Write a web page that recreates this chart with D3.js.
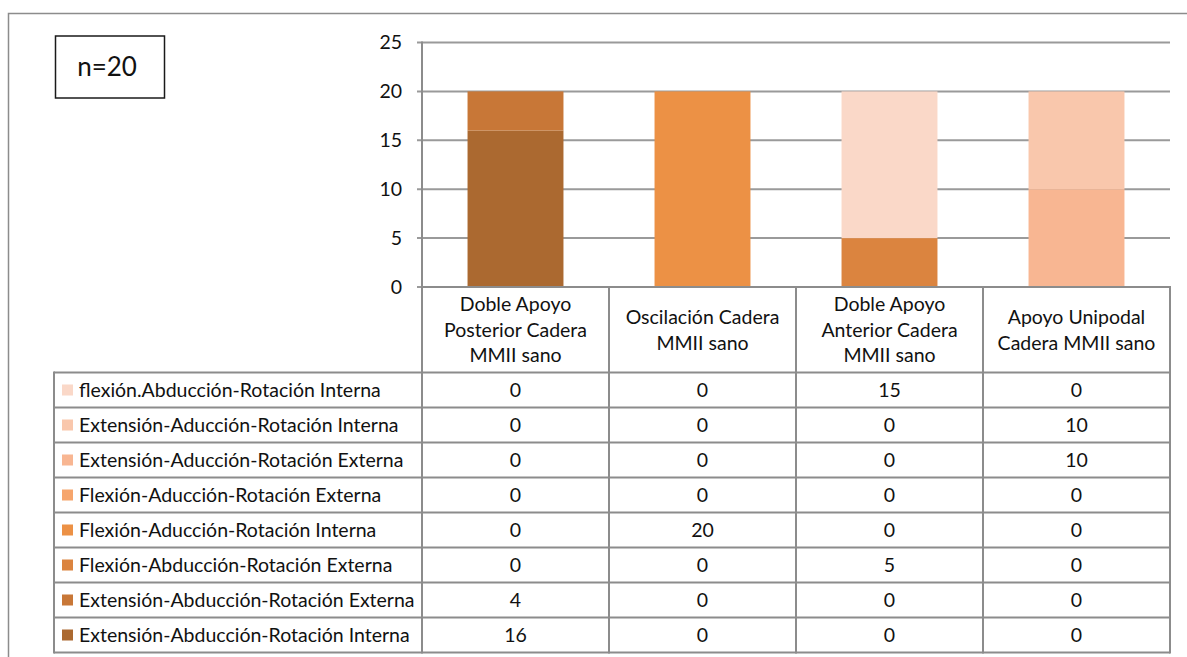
<!DOCTYPE html>
<html>
<head>
<meta charset="utf-8">
<script src="https://cdn.jsdelivr.net/npm/d3@7"></script>
<style>
  html, body { margin: 0; padding: 0; background: #fff; }
  svg { display: block; font-family: Lato, "Open Sans", sans-serif; }
</style>
</head>
<body>
<svg id="chart" width="1187" height="657"></svg>
<script>
// Movement patterns (series), listed bottom-up in the stack
const series = [
  "Extensión-Abducción-Rotación Interna",
  "Extensión-Abducción-Rotación Externa",
  "Flexión-Abducción-Rotación Externa",
  "Flexión-Aducción-Rotación Interna",
  "Flexión-Aducción-Rotación Externa",
  "Extensión-Aducción-Rotación Externa",
  "Extensión-Aducción-Rotación Interna",
  "flexión.Abducción-Rotación Interna"
];
const colors = [
  "#ab6930", "#c87737", "#db843f", "#ec9145",
  "#f6a56c", "#f8b692", "#f9c7ac", "#fad8c8"
];
// Gait phases (categories), each split over lines in the header
const categories = [
  "Doble Apoyo Posterior Cadera MMII sano",
  "Oscilación Cadera MMII sano",
  "Doble Apoyo Anterior Cadera MMII sano",
  "Apoyo Unipodal Cadera MMII sano"
];
const categoryLines = [
  ["Doble Apoyo", "Posterior Cadera", "MMII sano"],
  ["Oscilación Cadera", "MMII sano"],
  ["Doble Apoyo", "Anterior Cadera", "MMII sano"],
  ["Apoyo Unipodal", "Cadera MMII sano"]
];
// Counts per series (same order as `series`), one value per category
const values = [
  [16, 0, 0, 0],
  [4, 0, 0, 0],
  [0, 0, 5, 0],
  [0, 20, 0, 0],
  [0, 0, 0, 0],
  [0, 0, 0, 10],
  [0, 0, 0, 10],
  [0, 0, 15, 0]
];
const yTicks = [0, 5, 10, 15, 20, 25];
const sampleLabel = "n=20";

const svg = d3.select("#chart");
const lineColor = "#8c8c8c";
const gridColor = "#9a9a9a";
const fs = 19.5;

// Layout
const plot = { left: 422, right: 1170, top: 42.5, bottom: 287 };
const headerBottom = 372.5;
const rowH = 35;
const legendLeft = 54;

// Outer frame
svg.append("path")
  .attr("d", `M8.5,657 V13.5 H1187`)
  .attr("fill", "none").attr("stroke", lineColor).attr("stroke-width", 1.5);

// Sample size box
svg.append("rect")
  .attr("x", 55.5).attr("y", 36).attr("width", 109).attr("height", 62)
  .attr("fill", "#fff").attr("stroke", "#1a1a1a").attr("stroke-width", 1.5);
svg.append("text")
  .attr("x", 107).attr("y", 76)
  .attr("text-anchor", "middle").attr("font-size", 26).attr("fill", "#111")
  .text(sampleLabel);

// Scales
const x = d3.scaleBand().domain(categories)
  .range([plot.left, plot.right]).paddingInner(0.487).paddingOuter(0.2435);
const y = d3.scaleLinear().domain([0, 25]).range([plot.bottom, plot.top]);

// Gridlines
svg.append("g").selectAll("line").data(yTicks).join("line")
  .attr("x1", plot.left - 5).attr("x2", plot.right)
  .attr("y1", d => y(d)).attr("y2", d => y(d))
  .attr("stroke", gridColor).attr("stroke-width", 2);

// Y axis labels
const yAxis = d3.axisLeft(y).tickValues(yTicks).tickSize(0).tickPadding(20);
const gy = svg.append("g").attr("transform", `translate(${plot.left},0)`).call(yAxis);
gy.select(".domain").remove();
gy.selectAll("text").attr("font-size", fs).attr("fill", "#111")
  .attr("font-family", "Lato, sans-serif");

// Stacked bars
const rows = categories.map((c, ci) => {
  const r = { category: c };
  series.forEach((s, si) => { r[s] = values[si][ci]; });
  return r;
});
const stacked = d3.stack().keys(series)(rows);
svg.append("g").selectAll("g").data(stacked).join("g")
  .attr("fill", (d, i) => colors[i])
  .selectAll("rect").data(d => d).join("rect")
  .attr("x", d => x(d.data.category))
  .attr("width", x.bandwidth())
  .attr("y", d => y(d[1]))
  .attr("height", d => y(d[0]) - y(d[1]));

// Data table
const tableBottom = headerBottom + rowH * series.length;
const table = svg.append("g");

// Header cells (category names)
categories.forEach((c, i) => {
  const cx = x(c) + x.bandwidth() / 2;
  const lines = categoryLines[i];
  const mid = (plot.bottom + headerBottom) / 2;
  const lh = 25.5;
  lines.forEach((t, k) => {
    table.append("text")
      .attr("x", cx)
      .attr("y", mid + (k - (lines.length - 1) / 2) * lh + 7)
      .attr("text-anchor", "middle").attr("font-size", fs).attr("fill", "#111")
      .text(t);
  });
});

// Rows: legend entries listed top-down in reverse stack order
const order = d3.range(series.length).reverse();
order.forEach((si, r) => {
  const top = headerBottom + r * rowH;
  const cy = top + rowH / 2;
  table.append("rect")
    .attr("x", 62).attr("y", cy - 5.5).attr("width", 11).attr("height", 11)
    .attr("fill", colors[si]);
  table.append("text")
    .attr("x", 79).attr("y", cy + 7)
    .attr("font-size", fs).attr("fill", "#111")
    .text(series[si]);
  categories.forEach((c, ci) => {
    table.append("text")
      .attr("x", x(c) + x.bandwidth() / 2).attr("y", cy + 7)
      .attr("text-anchor", "middle").attr("font-size", fs).attr("fill", "#111")
      .text(values[si][ci]);
  });
});

// Table grid lines
const hLines = [];
hLines.push({ x1: plot.left, x2: plot.right, y: plot.bottom });
for (let r = 0; r <= series.length; r++) {
  hLines.push({ x1: legendLeft, x2: plot.right, y: headerBottom + r * rowH });
}
table.selectAll("line.h").data(hLines).join("line").attr("class", "h")
  .attr("x1", d => d.x1).attr("x2", d => d.x2)
  .attr("y1", d => d.y).attr("y2", d => d.y)
  .attr("stroke", lineColor).attr("stroke-width", 2);

const vLines = [{ x: legendLeft, y1: headerBottom, y2: tableBottom },
  { x: plot.left, y1: plot.top, y2: tableBottom }];
for (let i = 1; i <= categories.length; i++) {
  vLines.push({ x: plot.left + i * x.step(), y1: plot.bottom, y2: tableBottom });
}
table.selectAll("line.v").data(vLines).join("line").attr("class", "v")
  .attr("x1", d => d.x).attr("x2", d => d.x)
  .attr("y1", d => d.y1 - 1).attr("y2", d => d.y2 + 1)
  .attr("stroke", lineColor).attr("stroke-width", 2);
</script>
</body>
</html>
